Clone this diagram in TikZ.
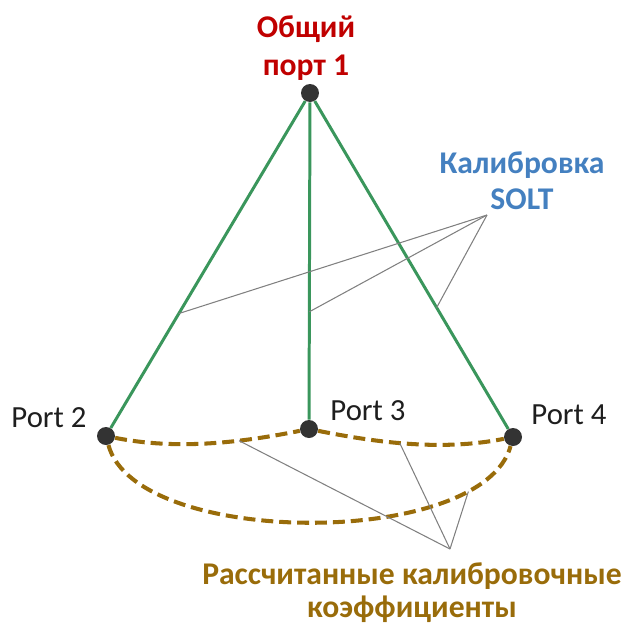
\documentclass[tikz,border=0pt]{standalone}
\usepackage{fontspec}
\setmainfont{Carlito}
\usetikzlibrary{positioning}
\definecolor{portred}{RGB}{192,0,0}
\definecolor{soltblue}{RGB}{68,128,192}
\definecolor{linegreen}{RGB}{58,150,92}
\definecolor{coefbrown}{RGB}{153,108,10}
\definecolor{leadergrey}{RGB}{128,128,128}
\definecolor{dotgrey}{RGB}{51,51,51}
\definecolor{porttext}{RGB}{30,30,30}
\tikzset{
  port/.style={circle, fill=dotgrey, minimum size=3.6mm, inner sep=0pt},
  solt/.style={draw=linegreen, line width=1.7pt},
  coef/.style={draw=coefbrown, line width=2.3pt, dash pattern=on 6.8pt off 3.4pt},
  leader/.style={draw=leadergrey, line width=0.6pt},
  portname/.style={font=\fontsize{17.5}{20}\selectfont, text=porttext},
  heading/.style={font=\fontsize{18}{22}\selectfont\bfseries, align=center}
}

\begin{document}
\begin{tikzpicture}[x=0.02cm, y=-0.02cm]
  \useasboundingbox (0,0) rectangle (626,626);
  % ports
  \node[port] (p1) at (310,93) {};
  \node[port] (p2) at (106,436) {};
  \node[port] (p3) at (309,429) {};
  \node[port] (p4) at (513,437) {};

  % SOLT paths from the common port
  \draw[solt] (p1) -- (p2) coordinate[pos=0.65] (s2);
  \draw[solt] (p1) -- (p3) coordinate[pos=0.66] (s3);
  \draw[solt] (p1) -- (p4) coordinate[pos=0.63] (s4);

  % computed coefficients
  \draw[coef] (p2) .. controls +(70,14) and +(-70,14) .. (p3) coordinate[pos=0.67] (c23);
  \draw[coef] (p3) .. controls +(70,14) and +(-70,14) .. (p4) coordinate[pos=0.44] (c34);
  \draw[coef] (p2) .. controls +(30,112) and +(-30,112) .. (p4) coordinate[pos=0.82] (c24);

  \node[portname] (name2) at (49,418) {Port 2};
  \node[portname] (name3) at (368,411) {Port 3};
  \node[portname] (name4) at (569,415) {Port 4};

  \node[heading, text=portred] (common) at (306,48) {Общий\\порт 1};
  \node[heading, text=soltblue, font=\fontsize{18}{20.4}\selectfont\bfseries]
    (soltname) at (522,181) {Калибровка\\SOLT};
  \node[heading, text=coefbrown, font=\fontsize{18}{18.7}\selectfont\bfseries]
    (coefname) at (412,593) {Рассчитанные калибровочные\\коэффициенты};

  % leaders
  \coordinate (soltend) at (487,215);
  \draw[leader] (soltend) -- (s2);
  \draw[leader] (soltend) -- (s3);
  \draw[leader] (soltend) -- (s4);
  \coordinate (coefend) at (450,549);
  \draw[leader] (coefend) -- (c23);
  \draw[leader] (coefend) -- (c34);
  \draw[leader] (coefend) -- (c24);
\end{tikzpicture}
\end{document}
